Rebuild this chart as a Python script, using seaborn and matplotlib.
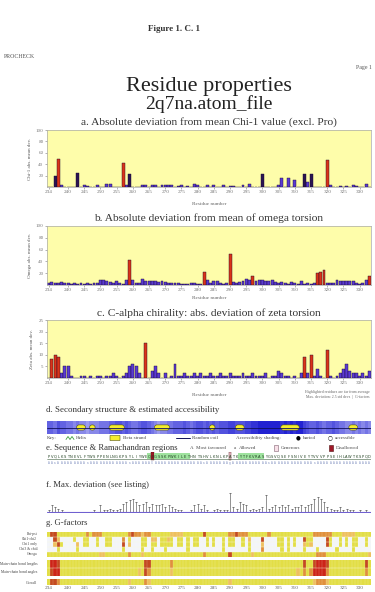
import matplotlib
matplotlib.use("Agg")
import numpy as np
import pandas as pd
import seaborn as sns
import matplotlib.pyplot as plt
from matplotlib.colors import ListedColormap, LinearSegmentedColormap
from matplotlib.patches import FancyBboxPatch, Rectangle
from matplotlib.lines import Line2D

# ---------------- data ----------------
residues = list(range(234, 334))
tick_residues = [234, 240, 245, 250, 255, 260, 265, 270, 275, 280, 285,
                 290, 295, 300, 305, 310, 315, 320, 325, 330]

chi1_dev = [0, 0, 20, 50, 3, 0, 0, 0, 0, 25,
            0, 3, 2, 0, 0, 3, 0, 0, 5, 6,
            0, 0, 0, 42, 3, 22, 0, 0, 0, 4,
            3, 0, 4, 3, 0, 3, 4, 3, 3, 0,
            2, 3, 0, 2, 0, 5, 4, 0, 0, 4,
            0, 3, 0, 0, 3, 0, 2, 2, 0, 0,
            3, 0, 6, 0, 0, 0, 22, 0, 0, 0,
            0, 4, 15, 0, 15, 0, 12, 0, 0, 22,
            8, 22, 0, 0, 0, 0, 48, 3, 0, 0,
            2, 0, 2, 0, 3, 2, 0, 0, 5, 0]

omega_dev = [4, 5, 4, 3, 5, 4, 3, 2, 3, 2,
             3, 2, 3, 2, 3, 3, 8, 9, 7, 5,
             4, 6, 3, 2, 8, 43, 9, 3, 4, 10,
             7, 6, 7, 6, 5, 6, 5, 4, 4, 3,
             3, 2, 2, 2, 3, 3, 2, 2, 22, 8,
             3, 7, 6, 3, 2, 3, 52, 5, 4, 5,
             6, 10, 8, 16, 6, 8, 8, 7, 6, 8,
             5, 3, 5, 3, 2, 5, 3, 2, 6, 2,
             3, 2, 3, 20, 22, 25, 4, 4, 3, 8,
             7, 6, 7, 7, 6, 3, 2, 3, 8, 16]

zeta_dev = [0, 8, 10, 9, 2, 5, 5, 1, 0, 0,
            1, 1, 0, 1, 0, 1, 1, 0, 1, 1,
            2, 1, 0, 1, 2, 5, 6, 5, 2, 0,
            15, 0, 3, 5, 2, 0, 2, 0, 1, 6,
            1, 1, 2, 1, 1, 2, 1, 2, 1, 1,
            2, 1, 1, 2, 1, 1, 2, 1, 1, 1,
            2, 1, 1, 2, 1, 1, 1, 2, 0, 1,
            1, 3, 2, 1, 1, 0, 1, 0, 2, 9,
            2, 10, 1, 4, 1, 0, 12, 1, 0, 1,
            2, 4, 6, 3, 2, 2, 1, 2, 1, 3]

max_dev = [1, 4, 3, 2, 1, 0, 0, 0, 0, 0,
           0, 0, 0, 0, 1, 0, 4, 1, 1, 2,
           1, 1, 2, 5, 6, 7, 8, 6, 4, 5,
           6, 3, 5, 4, 4, 5, 3, 4, 3, 2,
           1, 1, 0, 0, 1, 4, 5, 2, 4, 1,
           0, 1, 2, 1, 1, 1, 11, 3, 2, 6,
           5, 4, 1, 2, 1, 2, 3, 10, 2, 3,
           4, 3, 4, 3, 4, 2, 3, 3, 4, 3,
           4, 5, 8, 9, 8, 6, 3, 2, 1, 1,
           3, 1, 2, 1, 1, 0, 1, 0, 1, 0]

sequence = ("PVQLKSTNEV" "LFTWSPPENL" "NGKPSYLIYW" "EQEGSSKPWK" "ILETHNTSHV"
            "LKNLKPATKY" "TFKVRASYGS" "VQSEFSNIVE" "YTVVVPPSEI" "HLAWTKSPQD")
rama_region = ("AAaAAAAAAA" "AAaAAAAAAA" "AAAAAaAAAA" "AAXAAAAAAA" "AAAAAAAAaA"
               "AAAAAAgAAA" "AAAAAAAAaA" "AAAAAAAAAA" "AAaAAAAAAA" "AAAAAAAAAA")
seq_shade = (".........." ".........." ".........." ".ggggggggg" "gggg......"
             ".........g" "ggggggg..." ".........." ".........." "..........")
sec_struct = (".........E" "EE.EE....E" "EEEE......" "...EEEEE.." ".........."
              "EE......EE" "E........." "..EEEEEE.." ".........." "...EEE....")
accessibility = ("5546554434" "3323334445" "5665654456" "6543233445" "5565456656"
                 "5656667766" "6778899999" "9989898997" "6556545565" "4433434343")

gf_names_dihedral = ["Phi-psi", "Chi1-chi2", "Chi1 only", "Chi3 & chi4", "Omega"]
gf_dihedral = [
    "0330000000" "0020222000" "0000023221" "2200000011" "1100000030"
    "0000002232" "2200000020" "0000000000" "0022222200" "0111100000",
    "..31....0." ".00..0..00" "...2.0...0" "0.11.0010." "00.0.00..0"
    ".0..0.00.." "0.1...3..." ".00.0.0..3" "00....30.." "0.0.00..0.",
    "..130....1" ".00..0..00" "...3.1...0" "0.00.0000." "00.0.00..0"
    ".0..0.00.." "0.0...1..." ".00.0.0..1" "01....30.." "0.0.00..0.",
    "...0.....0" ".........." "...0.....0" "..0...0..." "...0......"
    "....0....." "..0...2..." "..0.0....0" "...0.....0" "....0.....",
    "0000000000" "0000001100" "0000020001" "0000000000" "0000000020"
    "0000003000" "0001000000" "0000000000" "0002220000" "0000000001",
]
gf_names_covalent = ["Main-chain bond lengths", "Main-chain bond angles"]
gf_covalent = [
    "0443000000" "0000000000" "0000000000" "3300000020" "0000000000"
    "0000000000" "0000000000" "0000000003" "0034443000" "0000000030",
    "0344000000" "0000000000" "0000000010" "3200000010" "0000000000"
    "0000000000" "0000000000" "0000000102" "0244442000" "0000000020",
]
gf_names_overall = ["Overall"]
gf_overall = [
    "0332000000" "0000000000" "0000010000" "2100000000" "0000000000"
    "0000001000" "0000000000" "0000000000" "0012221000" "0000000000",
]

# ---------------- style ----------------
sns.set_theme(style="white")
plt.rcParams["font.family"] = ["Liberation Serif", "DejaVu Serif"]

W, H = 375, 592
X0, X1 = 47, 371
PANEL_BG = "#fefdaa"
BAR_COLORS = {"low": "#5a3ad2", "mid": "#2a1452", "high": "#da3418"}
GF_CMAP = ListedColormap(["#e2de46", "#eec060", "#e0903c", "#c44a20", "#cc2418"])
ACC_CMAP = LinearSegmentedColormap.from_list("acc", ["#c4c4f4", "#6a6ae4", "#2222d2"])

fig = plt.figure(figsize=(W / 100, H / 100), dpi=100)
fig.patch.set_facecolor("white")


def box(x0, y0, x1, y1):
    return fig.add_axes([x0 / W, 1 - y1 / H, (x1 - x0) / W, (y1 - y0) / H])


def txt(x, y, s, size, ha="left", **kw):
    fig.text(x / W, 1 - y / H, s, fontsize=size, ha=ha, va="center", **kw)


n = len(residues)
tick_pos = [r - residues[0] for r in tick_residues]

# ---------------- header ----------------
txt(174, 29, "Figure 1. C. 1", 6.5, ha="center", weight="bold", color="#333")
txt(4, 56, "PROCHECK", 4.2, color="#555")
txt(356, 67, "Page 1", 4.2, color="#555")
txt(209, 86, "Residue properties", 16, ha="center", color="#222")
txt(209, 104, "2q7na.atom_file", 14, ha="center", color="#222")


# ---------------- bar panels ----------------
def bar_panel(y0, y1, ytitle, title, ylab, values, ymax, yticks, mid, high, yxlab):
    ax = box(X0, y0, X1, y1)
    lev = ["high" if v >= high else ("mid" if v >= mid else "low") for v in values]
    df = pd.DataFrame({"res": residues, "val": values, "lev": lev})
    sns.barplot(data=df, x="res", y="val", hue="lev", hue_order=["low", "mid", "high"],
                palette=BAR_COLORS, dodge=False, width=0.9, order=residues, ax=ax,
                legend=False, edgecolor="#1a0830", linewidth=0.3, saturation=1)
    ax.set_facecolor(PANEL_BG)
    ax.set_xlim(-0.5, n - 0.5)
    ax.set_ylim(0, ymax)
    ax.set_xticks(tick_pos)
    ax.set_xticklabels([str(r) for r in tick_residues], fontsize=3.8, color="#666")
    ax.set_yticks(yticks)
    ax.set_yticklabels([str(t) for t in yticks], fontsize=3.6, color="#666")
    ax.tick_params(length=1.5, width=0.4, pad=1, bottom=True, left=True, colors="#777")
    ax.set_xlabel("")
    ax.set_ylabel(ylab, fontsize=3.6, color="#555", labelpad=3)
    for s in ax.spines.values():
        s.set_color("#aaa")
        s.set_linewidth(0.5)
    txt(209, ytitle, title, 8.2, ha="center", color="#333")
    txt(209, yxlab, "Residue number", 3.8, ha="center", color="#666")
    return ax


bar_panel(130, 187, 122, "a. Absolute deviation from mean Chi-1 value (excl. Pro)",
          "Chi-1 abs. mean dev.", chi1_dev, 100, [20, 40, 60, 80, 100], 18, 30, 204)
bar_panel(226, 285, 218, "b. Absolute deviation from mean of omega torsion",
          "Omega abs. mean dev.", omega_dev, 100, [20, 40, 60, 80, 100], 100, 15, 298)
bar_panel(320, 378, 313, "c. C-alpha chirality: abs. deviation of zeta torsion",
          "Zeta abs. mean dev.", zeta_dev, 25, [5, 10, 15, 20, 25], 100, 7, 395)

txt(370, 392, "Highlighted residues are far from average", 2.8, ha="right", color="#666")
txt(370, 397, "Max. deviation: 2.5 std devs  |  G-factors", 2.8, ha="right", color="#666")

# ---------------- d. secondary structure ----------------
txt(46, 410, "d. Secondary structure & estimated accessibility", 6.4, color="#333")
axd = box(X0, 421, X1, 434)
acc = np.array([[int(c) for c in accessibility]])
sns.heatmap(acc, ax=axd, cmap=ACC_CMAP, vmin=0, vmax=9, cbar=False,
            xticklabels=False, yticklabels=False)
axd.plot([0, n], [0.5, 0.5], color="#10105a", lw=0.6)
i = 0
while i < n:
    if sec_struct[i] == "E":
        j = i
        while j < n and sec_struct[j] == "E":
            j += 1
        axd.add_patch(FancyBboxPatch((i + 0.15, 0.3), j - i - 0.3, 0.4,
                                     boxstyle="round,pad=0,rounding_size=0.8",
                                     mutation_aspect=0.25, fc="#f4ee2c", ec="#505010", lw=0.4))
        i = j
    else:
        i += 1

# legend row for d
ky = 438
txt(47, ky, "Key:", 3.6, color="#444")
fig.add_artist(Line2D([66 / W, 68 / W, 70 / W, 72 / W, 74 / W],
                      [1 - (ky + 1.5) / H, 1 - (ky - 1.5) / H, 1 - (ky + 1.5) / H,
                       1 - (ky - 1.5) / H, 1 - (ky + 1.5) / H], color="#40a040", lw=0.6))
txt(76, ky, "Helix", 3.6, color="#444")
fig.add_artist(FancyBboxPatch((110 / W, 1 - (ky + 2.5) / H), 10 / W, 5 / H,
                              boxstyle="round,pad=0", fc="#f4ee2c", ec="#505010", lw=0.4))
txt(123, ky, "Beta strand", 3.6, color="#444")
fig.add_artist(Line2D([176 / W, 190 / W], [1 - ky / H, 1 - ky / H], color="#10105a", lw=0.7))
txt(192, ky, "Random coil", 3.6, color="#444")
txt(236, ky, "Accessibility shading:", 3.6, color="#444")
txt(296, ky, "\u25CF", 4, color="#000", family="DejaVu Sans")
txt(303, ky, "buried", 3.6, color="#444")
txt(328, ky, "\u25CB", 4, color="#000", family="DejaVu Sans")
txt(335, ky, "accessible", 3.6, color="#444")

# ---------------- e. sequence & Ramachandran ----------------
txt(46, 448, "e. Sequence & Ramachandran regions", 6.2, color="#333")
txt(190, 448, "A", 3.6, color="#444")
txt(196, 448, "Most favoured", 3.6, color="#444")
txt(234, 448, "a", 3.6, color="#444")
txt(239, 448, "Allowed", 3.6, color="#444")
fig.add_artist(Rectangle((274 / W, 1 - 451 / H), 4 / W, 6 / H, fc="#f8e0e8", ec="#806070", lw=0.4))
txt(281, 448, "Generous", 3.6, color="#444")
fig.add_artist(Rectangle((329 / W, 1 - 451 / H), 4 / W, 6 / H, fc="#a01828", ec="#501010", lw=0.4))
txt(336, 448, "Disallowed", 3.6, color="#444")

axe = box(X0, 452, X1, 466)
axe.set_xlim(0, n)
axe.set_ylim(0, 2)
axe.axis("off")
region_col = {"g": "#f4c8d4", "X": "#a01828"}
for k in range(n):
    if seq_shade[k] == "g":
        axe.add_patch(Rectangle((k, 0.95), 1, 0.85, fc="#9ee29e", ec="none"))
    if rama_region[k] in region_col:
        axe.add_patch(Rectangle((k + 0.1, 0.9), 0.8, 1.1, fc=region_col[rama_region[k]],
                                ec="#501010", lw=0.3))
    axe.text(k + 0.5, 1.35, sequence[k], fontsize=2.6, ha="center", va="center",
             color="#204020", family="DejaVu Sans")
    axe.text(k + 0.5, 0.45, rama_region[k], fontsize=2.0, ha="center", va="center",
             color="#8090c0", family="DejaVu Sans")
axe.plot([0, n], [0.95, 0.95], color="#406040", lw=0.4)

# ---------------- f. max deviation ----------------
txt(46, 485, "f. Max. deviation (see listing)", 6.2, color="#333")
axf = box(X0, 490, X1, 513)
xs = np.arange(n) + 0.5
md = np.array(max_dev, dtype=float)
axf.vlines(xs, 0, md, color="#666", lw=0.5)
axf.scatter(xs[md > 0], md[md > 0], marker="_", s=3, color="#444", linewidths=0.5)
axf.axhline(0, color="#7060d0", lw=0.8)
axf.set_xlim(0, n)
axf.set_ylim(-0.5, 13)
axf.axis("off")

# ---------------- g. G-factors ----------------
txt(46, 523, "g. G-factors", 6.2, color="#333")


def gf_block(y0, y1, names, rows, show_x=False):
    ax = box(X0, y0, X1, y1)
    mat = np.array([[np.nan if c == "." else float(c) for c in r] for r in rows])
    df = pd.DataFrame(mat, index=names, columns=residues)
    sns.heatmap(df, ax=ax, cmap=GF_CMAP, vmin=-0.5, vmax=4.5, cbar=False,
                linewidths=0, xticklabels=False)
    ax.vlines(np.arange(1, n), 0, len(names), color="#fbfbe6", lw=0.2, alpha=0.6)
    for r in range(1, len(names)):
        ax.axhline(r, color="#fafae0", lw=0.3)
    ax.set_facecolor("#f3f5fa")
    ax.set_yticks(np.arange(len(names)) + 0.5)
    ax.set_yticklabels(names, fontsize=2.7, rotation=0, color="#444")
    ax.tick_params(length=0, pad=7)
    ax.set_xlabel("")
    ax.set_ylabel("")
    if show_x:
        ax.set_xticks([p + 0.5 for p in tick_pos])
        ax.set_xticklabels([str(r) for r in tick_residues], fontsize=3.8, color="#666",
                           rotation=0)
        ax.tick_params(axis="x", pad=1)
    return ax


gf_block(532, 557, gf_names_dihedral, gf_dihedral)
gf_block(560, 576, gf_names_covalent, gf_covalent)
gf_block(579, 585, gf_names_overall, gf_overall, show_x=True)

fig.savefig("out.png", dpi=100, facecolor="white")
